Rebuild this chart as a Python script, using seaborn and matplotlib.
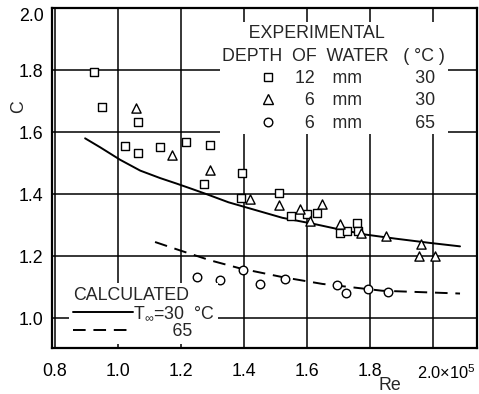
import matplotlib
matplotlib.use("Agg")
import matplotlib.pyplot as plt
import matplotlib.transforms as mtransforms
import pandas as pd
import seaborn as sns
from matplotlib.lines import Line2D

# Experimental points: depth 12 mm, water at 30 °C
sq_re = [0.925, 0.950, 1.064, 1.022, 1.064, 1.133, 1.215, 1.294, 1.393, 1.272,
         1.391, 1.510, 1.549, 1.599, 1.631, 1.705, 1.728, 1.759, 1.763]
sq_c = [1.794, 1.681, 1.634, 1.555, 1.534, 1.552, 1.569, 1.557, 1.467, 1.432,
        1.388, 1.405, 1.329, 1.335, 1.340, 1.275, 1.281, 1.308, 1.283]

# Experimental points: depth 6 mm, water at 30 °C
tri_re = [1.059, 1.173, 1.291, 1.420, 1.512, 1.578, 1.609, 1.647, 1.705, 1.773,
          1.852, 1.961, 1.957, 2.005]
tri_c = [1.679, 1.525, 1.477, 1.386, 1.365, 1.351, 1.313, 1.367, 1.304, 1.275,
         1.264, 1.240, 1.200, 1.200]

# Experimental points: depth 6 mm, water at 65 °C
cir_re = [1.252, 1.325, 1.396, 1.452, 1.531, 1.696, 1.723, 1.794, 1.857]
cir_c = [1.134, 1.125, 1.157, 1.112, 1.128, 1.109, 1.082, 1.096, 1.086]

# Calculated curves
calc30_re = [0.896, 0.944, 1.007, 1.071, 1.134, 1.187, 1.235, 1.282, 1.351,
             1.409, 1.522, 1.628, 1.701, 1.786, 1.880, 1.991, 2.086]
calc30_c = [1.580, 1.551, 1.511, 1.476, 1.452, 1.434, 1.417, 1.400, 1.374,
            1.357, 1.324, 1.303, 1.287, 1.270, 1.257, 1.243, 1.232]
calc65_re = [1.118, 1.197, 1.293, 1.388, 1.522, 1.649, 1.839, 2.086]
calc65_c = [1.246, 1.219, 1.187, 1.161, 1.133, 1.111, 1.089, 1.080]

x_ticks = [0.8, 1.0, 1.2, 1.4, 1.6, 1.8, 2.0]
x_tick_labels = ["0.8", "1.0", "1.2", "1.4", "1.6", "1.8", "2.0×10$^5$"]
y_ticks = [1.0, 1.2, 1.4, 1.6, 1.8, 2.0]
y_tick_labels = ["1.0", "1.2", "1.4", "1.6", "1.8", "2.0"]

sns.set_theme(style="white")
plt.rcParams["font.family"] = ["Liberation Sans", "DejaVu Sans"]
plt.rcParams["mathtext.fontset"] = "custom"
plt.rcParams["mathtext.rm"] = "Liberation Sans"
plt.rcParams["mathtext.it"] = "Liberation Sans"
plt.rcParams["mathtext.sf"] = "Liberation Sans"

FS = 12.8
DASH = (0, (6.5, 4))
EM, FIG = "\u2003", "\u2007"

fig = plt.figure(figsize=(4.79, 3.94), dpi=100)
ax = fig.add_axes([0.1086, 0.1168, 0.8873, 0.863])

d30 = pd.DataFrame({"Re": calc30_re, "C": calc30_c})
d65 = pd.DataFrame({"Re": calc65_re, "C": calc65_c})
sns.lineplot(data=d30, x="Re", y="C", sort=False, color="black", lw=1.4,
             ax=ax, zorder=2)
sns.lineplot(data=d65, x="Re", y="C", sort=False, color="black", lw=1.4,
             linestyle=DASH, ax=ax, zorder=2)

mk = dict(facecolor="white", edgecolor="black", linewidth=1.0, zorder=3, ax=ax)
sns.scatterplot(data=pd.DataFrame({"Re": sq_re, "C": sq_c}), x="Re", y="C",
                marker="s", s=32, **mk)
sns.scatterplot(data=pd.DataFrame({"Re": tri_re, "C": tri_c}), x="Re", y="C",
                marker="^", s=44, **mk)
sns.scatterplot(data=pd.DataFrame({"Re": cir_re, "C": cir_c}), x="Re", y="C",
                marker="o", s=38, **mk)

ax.set_xlim(0.791, 2.14)
ax.set_ylim(0.9046, 2.0)
ax.set_xticks(x_ticks)
ax.set_xticklabels(x_tick_labels)
ax.set_yticks(y_ticks)
ax.set_yticklabels(y_tick_labels)
ax.tick_params(axis="both", length=0, labelsize=FS, colors="black")
ax.tick_params(axis="x", pad=11)
ax.tick_params(axis="y", pad=6)
ax.get_yticklabels()[-1].set_va("top")
# last x label carries the exponent: keep "2.0" centred on its tick
last = ax.get_xticklabels()[-1]
last.set_fontsize(11.8)
last.set_ha("left")
last.set_transform(last.get_transform()
                   + mtransforms.ScaledTranslation(-11.8 / 72, 0,
                                                   fig.dpi_scale_trans))

ax.grid(True, color="black", lw=1.1)
ax.set_axisbelow(True)
for sp in ax.spines.values():
    sp.set_visible(True)
    sp.set_color("black")
    sp.set_linewidth(1.6)
    sp.set_zorder(5)

ax.set_xlabel("Re", fontsize=FS)
ax.xaxis.set_label_coords(0.795, -0.085)
ax.set_ylabel("C", fontsize=FS)
ax.yaxis.set_label_coords(-0.058, 0.71)

# Experimental legend
mkw = dict(ls="none", mfc="white", mec="black", mew=1.0)
exp_handles = [Line2D([], [], marker="s", ms=5.6, **mkw),
               Line2D([], [], marker="^", ms=6.6, **mkw),
               Line2D([], [], marker="o", ms=6.2, **mkw)]
exp_labels = ["12" + EM + "mm" + EM * 3 + "30" + FIG,
              FIG + "6" + EM + "mm" + EM * 3 + "30" + FIG,
              FIG + "6" + EM + "mm" + EM * 3 + "65" + FIG]
leg1 = ax.legend(exp_handles, exp_labels,
                 title="\u2002\u2002\u2002EXPERIMENTAL\nDEPTH  OF  WATER   ( °C )",
                 title_fontsize=FS, fontsize=FS, loc="upper right",
                 bbox_to_anchor=(0.952, 0.984), frameon=True,
                 facecolor="white", edgecolor="none", framealpha=1.0,
                 fancybox=False, borderpad=0.15, labelspacing=0.3,
                 handlelength=1.0, handletextpad=1.05)
leg1.get_title().set_linespacing(1.45)
leg1._legend_box.align = "right"
leg1.set_zorder(4)
ax.add_artist(leg1)

# Calculated legend
calc_handles = [Line2D([], [], color="black", lw=1.4),
                Line2D([], [], color="black", lw=1.4, ls=DASH)]
calc_labels = ["T$_\\infty$=30  °C", FIG * 4 + "65"]
leg2 = ax.legend(calc_handles, calc_labels, title="CALCULATED",
                 title_fontsize=FS, fontsize=FS, loc="lower left",
                 bbox_to_anchor=(0.02, -0.013), frameon=True,
                 facecolor="white", edgecolor="none", framealpha=1.0,
                 fancybox=False, borderpad=0.2, labelspacing=0.05,
                 handlelength=3.4, handletextpad=0.0, alignment="left")
leg2.set_zorder(4)

fig.savefig("out.png", dpi=100)
